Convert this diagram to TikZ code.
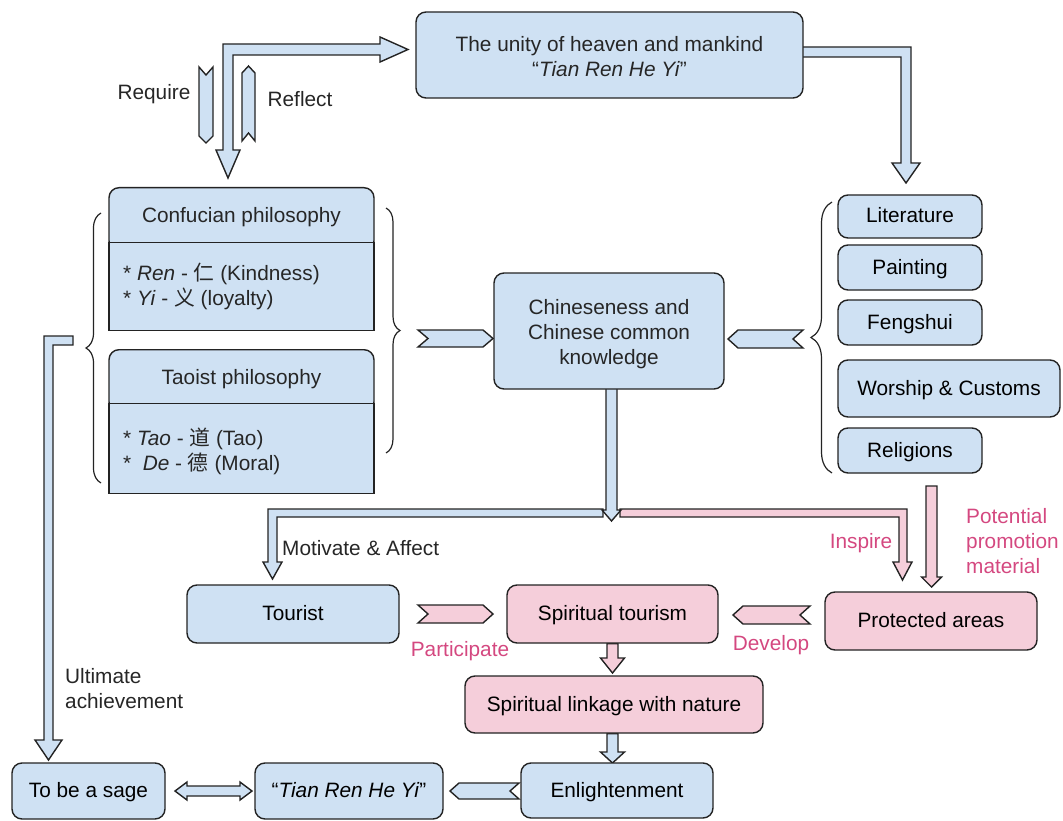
\documentclass[tikz,border=0pt]{standalone}
\usepackage{fontspec}
\setmainfont{Liberation Sans}
\newfontfamily\cjk{Noto Sans CJK SC}
\usetikzlibrary{calc,decorations.pathreplacing}
\pgfdeclarelayer{bg}
\pgfsetlayers{bg,main}
\definecolor{bfill}{RGB}{207,225,243}
\definecolor{pfill}{RGB}{245,206,218}
\definecolor{ptext}{RGB}{212,72,128}
\definecolor{edge}{RGB}{35,35,35}
\tikzset{
  box/.style={draw=edge, line width=1.4pt, rounded corners=10pt, align=center, inner sep=2pt},
  one/.style={text height=13pt, text depth=0pt},
  bbox/.style={box, fill=bfill},
  pbox/.style={box, fill=pfill},
  sqbox/.style={draw=edge, line width=1.4pt, fill=bfill},
  blk/.style={draw=edge, line width=1.4pt, fill=bfill, line join=miter},
  pblk/.style={blk, fill=pfill},
  lbl/.style={inner sep=0pt, text=black!85},
  plbl/.style={inner sep=0pt, text=ptext},
  brc/.style={draw=edge, line width=1.2pt, decorate},
}
% vertical block arrow: style, start, tip, shaft half width, head half width, head length
\newcommand\vblk[6]{\draw[#1] let \p1=#2, \p2=#3 in
  (\x1-#4pt,\y1) -- (\x1-#4pt,\y2+#6pt) -- (\x1-#5pt,\y2+#6pt) -- (\x1,\y2)
  -- (\x1+#5pt,\y2+#6pt) -- (\x1+#4pt,\y2+#6pt) -- (\x1+#4pt,\y1) -- cycle;}
% horizontal chevron: style, tail point, tip point, half height, signed depth
\newcommand\hchev[5]{\draw[#1] let \p1=#2, \p2=#3 in
  (\x1,\y1+#4pt) -- ({\x2-(#5pt)},\y1+#4pt) -- (\x2,\y1) -- ({\x2-(#5pt)},\y1-#4pt)
  -- (\x1,\y1-#4pt) -- ({\x1+(#5pt)},\y1) -- cycle;}
\begin{document}
\begin{tikzpicture}[x=1pt, y=-1pt, font=\fontsize{20.8}{25}\selectfont]
\useasboundingbox (0,0) rectangle (1063,821);

% ---------- boxes ----------
\node[bbox, minimum width=387pt, minimum height=86pt] (top) at (609.5,55) {};
\node[lbl, align=center] (topt) at (609.5,57)
  {The unity of heaven and mankind\\“\textit{Tian Ren He Yi}”};

\node[bbox, minimum width=265pt, minimum height=63pt, anchor=north] (confh) at (241.5,187) {};
\node[lbl] (confht) at (241.5,217.5) {Confucian philosophy};
\node[sqbox, minimum width=265pt, minimum height=88pt, anchor=north] (confb) at (241.5,242) {};
\node[lbl, anchor=west, align=left] (confbt) at (123,286)
  {* \textit{Ren} - {\cjk 仁} (Kindness)\\* \textit{Yi} - {\cjk 义} (loyalty)};

\node[bbox, minimum width=265pt, minimum height=62pt, anchor=north] (taoh) at (241.5,349) {};
\node[lbl] (taoht) at (241.5,379.5) {Taoist philosophy};
\node[sqbox, minimum width=265pt, minimum height=90pt, anchor=north] (taob) at (241.5,403) {};
\node[lbl, anchor=west, align=left] (taobt) at (123,451)
  {* \textit{Tao} - {\cjk 道} (Tao)\\*~~\textit{De} - {\cjk 德} (Moral)};

\node[bbox, minimum width=230pt, minimum height=116pt] (chin) at (609,331) {};
\node[lbl, align=center] (chint) at (609,334) {Chineseness and\\Chinese common\\knowledge};

\node[bbox, one, minimum width=144pt, minimum height=43pt] (lit) at (910,216.5) {Literature};
\node[bbox, one, minimum width=144pt, minimum height=45pt] (pai) at (910,267.5) {Painting};
\node[bbox, one, minimum width=144pt, minimum height=45pt] (fen) at (910,322.5) {Fengshui};
\node[bbox, one, minimum width=222pt, minimum height=57pt] (wor) at (949,388.5) {Worship \& Customs};
\node[bbox, one, minimum width=144pt, minimum height=45pt] (rel) at (910,450.5) {Religions};

\node[bbox, one, minimum width=212pt, minimum height=58pt] (tou) at (293,614) {Tourist};
\node[pbox, one, minimum width=211pt, minimum height=58pt] (st) at (612.5,614) {Spiritual tourism};
\node[pbox, one, minimum width=212pt, minimum height=58pt] (pa) at (931,621) {Protected areas};
\node[pbox, one, minimum width=298pt, minimum height=57pt] (sl) at (614,704.5) {Spiritual linkage with nature};
\node[bbox, one, minimum width=192pt, minimum height=55pt] (en) at (617,790.5) {Enlightenment};
\node[bbox, one, minimum width=188pt, minimum height=56pt] (tian) at (349,791) {“\textit{Tian Ren He Yi}”};
\node[bbox, one, minimum width=153pt, minimum height=56pt] (sage) at (88.5,791) {To be a sage};

% ---------- labels ----------
\node[lbl] (req) at (154,94) {Require};
\node[lbl] (refl) at (300,99) {Reflect};
\node[lbl, anchor=west] (mot) at (282,548) {Motivate \& Affect};
\node[plbl] (insp) at (861,543) {Inspire};
\node[plbl, anchor=west, align=left] (pot) at (966,541) {Potential\\promotion\\material};
\node[plbl] (part) at (460,651) {Participate};
\node[plbl] (dev) at (771,645) {Develop};
\node[lbl, anchor=west, align=left] (ult) at (65,689) {Ultimate\\achievement};

% ---------- braces ----------
\draw[brc, decoration={brace, amplitude=15pt}] (101,483) -- (101,213);
\draw[brc, decoration={brace, amplitude=14pt}] (386,208) -- (386,453);
\draw[brc, decoration={brace, amplitude=21pt}] (832,473) -- (832,202);

% ---------- block arrows ----------
\begin{pgfonlayer}{bg}
% Require / Reflect
\draw[blk] (199,67) -- (206,75) -- (213,67) -- (213,136) -- (206,143) -- (199,136) -- cycle;
\draw[blk] (242,141) -- (248.5,133) -- (255,141) -- (255,73) -- (248.5,66) -- (242,73) -- cycle;
% double L arrow top left
\draw[blk] (223,150) -- (223,44) -- (380,44) -- (380,37) -- (408,49.5) -- (380,62) -- (380,55)
  -- (233,55) -- (233,150) -- (240,150) -- (228,178) -- (216,150) -- cycle;
% top box to literature
\draw[blk] (795,47) -- (911,47) -- (911,163) -- (920,163) -- (906,183) -- (892,163) -- (901,163)
  -- (901,57) -- (795,57) -- cycle;
% chevrons into Chineseness
\hchev{blk}{(418,338.5)}{(493,338.5)}{8.5}{10}
\hchev{blk}{(803,339)}{(728,339)}{9}{-10}
% split below Chineseness
\draw[blk] (603,509) -- (268,509) -- (268,562) -- (263,562) -- (272.5,579) -- (282,562)
  -- (277,562) -- (277,517) -- (603,517) -- cycle;
\draw[pblk] (620,509) -- (907,509) -- (907,562) -- (912,562) -- (902.5,580) -- (893,562)
  -- (899,562) -- (899,517) -- (620,517) -- cycle;
\vblk{blk}{(611.5,385)}{(611.5,521)}{5.5}{9.5}{11}
% religions to protected areas
\vblk{pblk}{(931.5,486)}{(931.5,587)}{5.5}{10}{10}
% participate / develop
\hchev{pblk}{(418,614)}{(493,614)}{9}{10}
\hchev{pblk}{(810,615)}{(733,615)}{9}{-10}
% spiritual tourism -> linkage -> enlightenment
\vblk{pblk}{(st.south)}{(612.5,673)}{5.5}{12}{15}
\vblk{blk}{($(sl.south)+(-1.5,0)$)}{(612.5,763)}{5.5}{12}{11}
% enlightenment -> tian
\hchev{blk}{(519,791)}{(450,791)}{8}{-9}
% sage <-> tian
\draw[blk] (175,791) -- (187,782) -- (187,786) -- (240,786) -- (240,782) -- (252,791)
  -- (240,800) -- (240,796) -- (187,796) -- (187,800) -- cycle;
% ultimate achievement
\draw[blk] (73,336) -- (44,336) -- (44,740) -- (35,740) -- (48.5,760) -- (62,740) -- (53,740)
  -- (53,345) -- (73,345) -- cycle;
\end{pgfonlayer}
\end{tikzpicture}
\end{document}
